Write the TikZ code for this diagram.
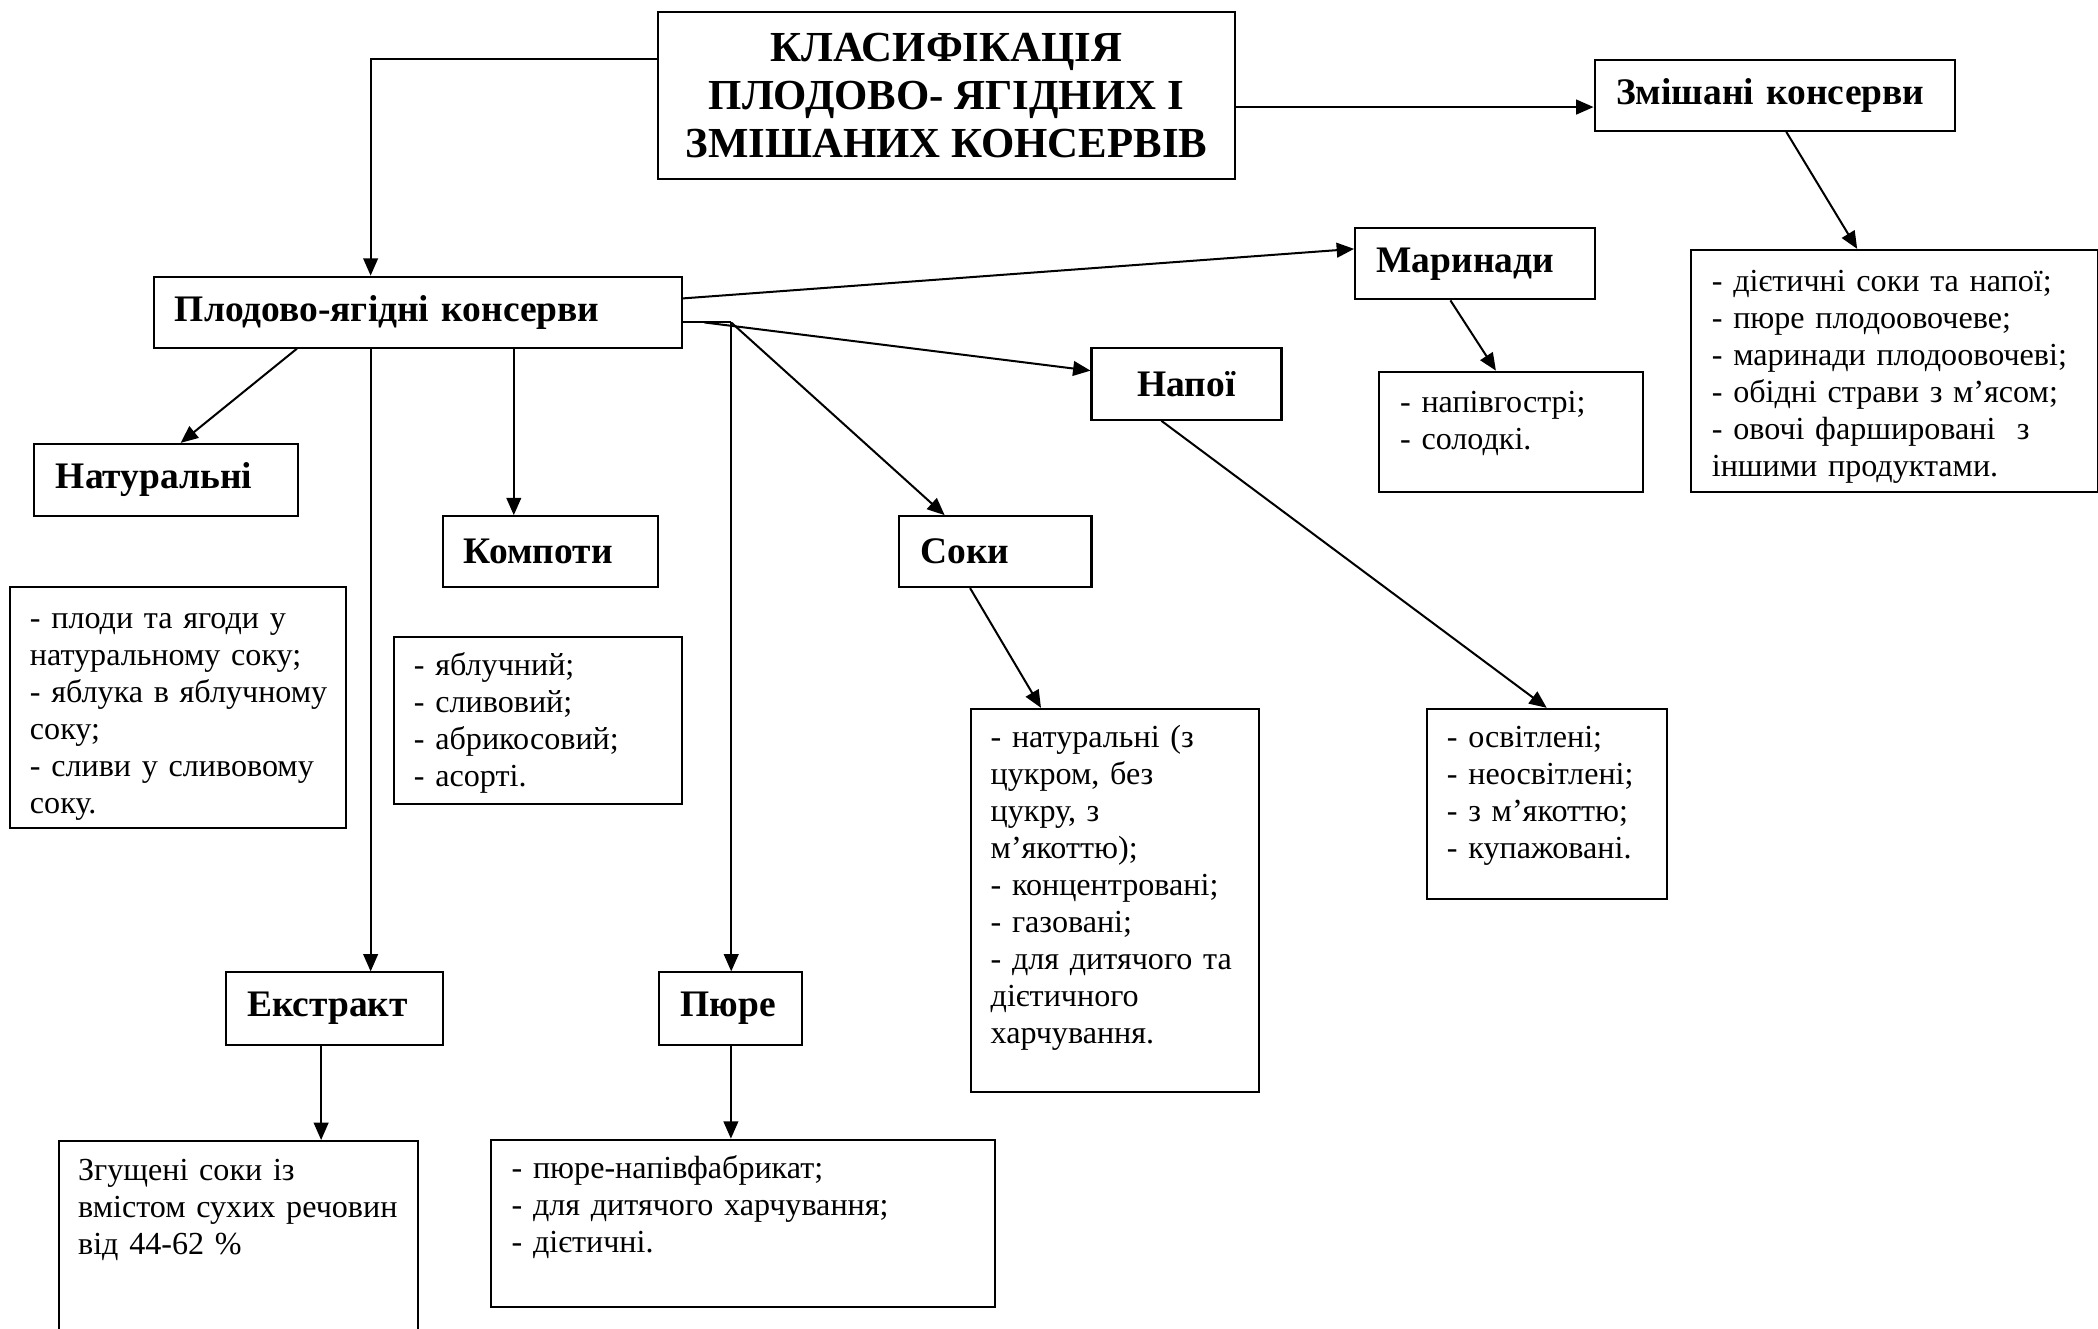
\documentclass[tikz,border=0pt]{standalone}
\usepackage{fontspec}
\setmainfont{Liberation Serif}
\usetikzlibrary{arrows.meta}

\tikzset{
  hdr/.style={draw, line width=0.75pt, anchor=north west, inner xsep=8pt, inner ysep=0pt, align=left, font=\bfseries\fontsize{14}{16}\selectfont},
  lbox/.style={draw, line width=0.75pt, anchor=north west, inner sep=0pt},
  ltxt/.style={anchor=base west, inner sep=0pt, text width=200pt, align=left, font=\fontsize{12}{13.8}\selectfont},
  arr/.style={line width=0.75pt, -{Triangle[length=6.5pt,width=5.5pt]}}
}

\begin{document}
\begin{tikzpicture}[x=0.5pt,y=-0.5pt]
\useasboundingbox (0,0) rectangle (1568,993);
\clip (0,0) rectangle (1568,993);

% title
\node[draw, line width=0.75pt, anchor=north west, minimum width=215.5pt, minimum height=62.5pt, align=center, font=\bfseries\fontsize{16}{18}\selectfont] (title) at (491,8) {КЛАСИФІКАЦІЯ\\ПЛОДОВО- ЯГІДНИХ І\\ЗМІШАНИХ КОНСЕРВІВ};

% headers
\node[hdr, text width=181.5pt, minimum height=26.5pt] (fruit) at (114,206) {Плодово-ягідні консерви};
\node[hdr, text width=118.5pt, minimum height=26.5pt] (mixed) at (1191,44) {Змішані консерви};
\node[hdr, text width=73.5pt, minimum height=26.5pt] (marin) at (1012,170) {Маринади};
\node[hdr, text width=55pt, minimum height=27pt, align=center] (drinks) at (815,259) {Напої};
\node[hdr, text width=82.5pt, minimum height=27pt] (natur) at (25,331) {Натуральні};
\node[hdr, text width=64.5pt, minimum height=26.5pt] (compot) at (330,385) {Компоти};
\node[hdr, text width=56pt, minimum height=26.5pt] (juice) at (671,385) {Соки};
\node[hdr, text width=65pt, minimum height=27pt] (extr) at (168,726) {Екстракт};
\node[hdr, text width=37.5pt, minimum height=27pt] (puree) at (492,726) {Пюре};

% list boxes
\node[lbox, minimum width=125.5pt, minimum height=90pt] (naturlist) at (7,438) {};
\node[lbox, minimum width=107.5pt, minimum height=62.5pt] (compotlist) at (294,475) {};
\node[lbox, minimum width=107.5pt, minimum height=143pt] (juicelist) at (725,529) {};
\node[lbox, minimum width=89.5pt, minimum height=71pt] (drinkslist) at (1066,529) {};
\node[lbox, minimum width=98.5pt, minimum height=45pt] (marinlist) at (1030,277) {};
\node[lbox, minimum width=152pt, minimum height=90.5pt] (mixedlist) at (1263,186) {};
\node[lbox, minimum width=134.5pt, minimum height=74pt] (extrlist) at (43,852) {};
\node[lbox, minimum width=188.5pt, minimum height=62.5pt] (pureelist) at (366,851) {};

% list texts
\node[ltxt] (naturtxt) at ([shift={(7.5pt,-16pt)}]naturlist.north west) {- плоди та ягоди у\\натуральному соку;\\- яблука в яблучному\\соку;\\- сливи у сливовому\\соку.};
\node[ltxt] (compottxt) at ([shift={(7.5pt,-15pt)}]compotlist.north west) {- яблучний;\\- сливовий;\\- абрикосовий;\\- асорті.};
\node[ltxt] (juicetxt) at ([shift={(7.5pt,-15pt)}]juicelist.north west) {- натуральні (з\\цукром, без\\цукру, з\\м’якоттю);\\- концентровані;\\- газовані;\\- для дитячого та\\дієтичного\\харчування.};
\node[ltxt] (drinkstxt) at ([shift={(7.5pt,-15pt)}]drinkslist.north west) {- освітлені;\\- неосвітлені;\\- з м’якоттю;\\- купажовані.};
\node[ltxt] (marintxt) at ([shift={(8pt,-15.5pt)}]marinlist.north west) {- напівгострі;\\- солодкі.};
\node[ltxt] (mixedtxt) at ([shift={(8pt,-16pt)}]mixedlist.north west) {- дієтичні соки та напої;\\- пюре плодоовочеве;\\- маринади плодоовочеві;\\- обідні страви з м’ясом;\\- овочі фаршировані\ \ з\\іншими продуктами.};
\node[ltxt] (extrtxt) at ([shift={(7.5pt,-15pt)}]extrlist.north west) {Згущені соки із\\вмістом сухих речовин\\від 44-62 \%};
\node[ltxt] (pureetxt) at ([shift={(8pt,-15pt)}]pureelist.north west) {- пюре-напівфабрикат;\\- для дитячого харчування;\\- дієтичні.};

% connectors
\coordinate (tl) at ([yshift=-18pt]title.north west);
\coordinate (tr) at ([yshift=-36pt]title.north east);
\coordinate (split) at ([xshift=18pt,yshift=-17.5pt]fruit.north east);

\draw[arr] (tl) -| ([xshift=81.5pt]fruit.north west);
\draw[arr] (tr) -- (tr -| mixed.west);
\draw[arr] ([xshift=72pt]mixed.south west) -- ([xshift=62.5pt]mixedlist.north west);
\draw[arr] ([yshift=-8.5pt]fruit.north east) -- ([yshift=-8pt]marin.north west);
\draw[line width=0.75pt] ([yshift=-17.5pt]fruit.north east) -- (split);
\draw[arr] ([xshift=8pt]fruit.north east |- split) -- ([yshift=-9pt]drinks.north west);
\draw[arr] (split) -- ([xshift=17.5pt]juice.north west);
\draw[arr] (split) -- (split |- puree.north);
\draw[arr] ([xshift=54pt]fruit.south west) -- ([xshift=55pt]natur.north west);
\draw[arr] ([xshift=81.5pt]fruit.south west) -- ([xshift=54.5pt]extr.north west);
\draw[arr] ([xshift=135pt]fruit.south west) -- ([xshift=27pt]compot.north west);
\draw[arr] ([xshift=36pt]marin.south west) -- ([xshift=44pt]marinlist.north west);
\draw[arr] ([xshift=26.5pt]drinks.south west) -- ([xshift=45pt]drinkslist.north west);
\draw[arr] ([xshift=27pt]juice.south west) -- ([xshift=26.5pt]juicelist.north west);
\draw[arr] ([xshift=36pt]extr.south west) -- ([xshift=98.5pt]extrlist.north west);
\draw[arr] (puree.south) -- (puree.south |- pureelist.north);

\end{tikzpicture}
\end{document}
